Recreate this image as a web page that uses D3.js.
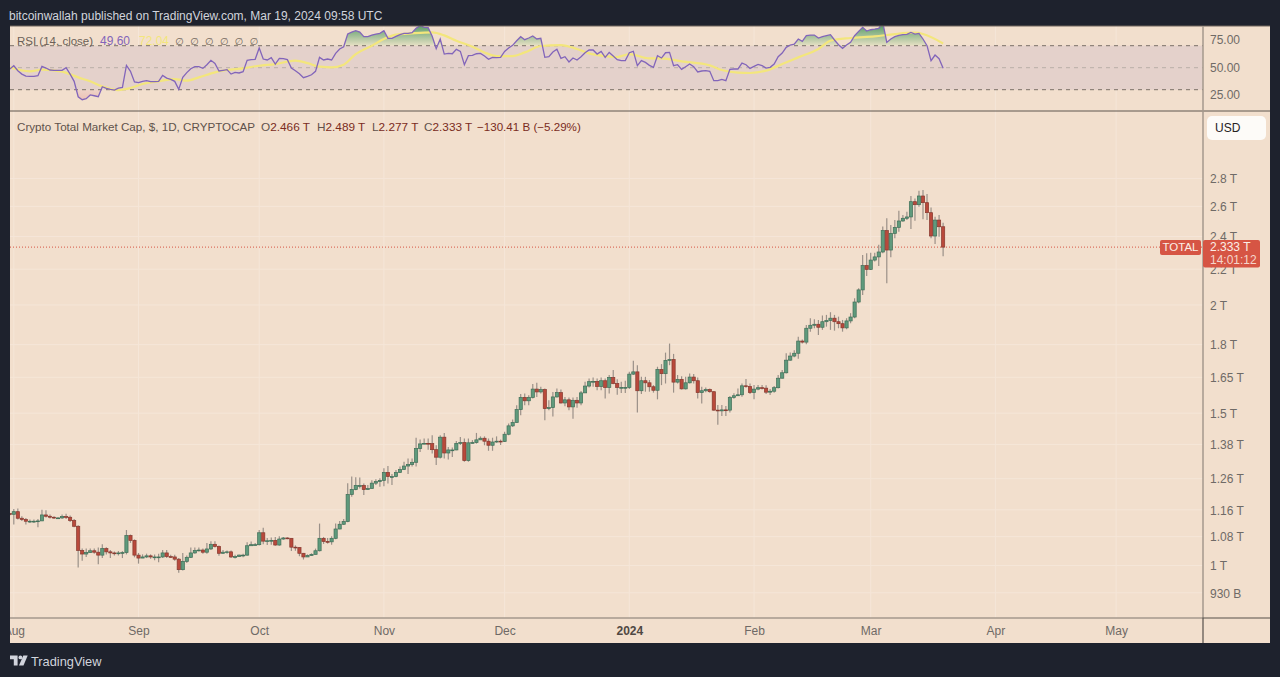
<!DOCTYPE html>
<html>
<head>
<meta charset="utf-8">
<title>Crypto Total Market Cap</title>
<script src="https://cdn.jsdelivr.net/npm/d3@7"></script>
<style>
    body { margin: 0; background: #1e222d; }
    svg { display: block; }
    text { font-family: "Liberation Sans", Arial, sans-serif; }
    .price-axis text, .time-axis text { fill: #6f6a66; font-size: 12px; font-family: "Liberation Sans", Arial, sans-serif; }
</style>
</head>
<body>
<div id="chart"></div>
<script>
// daily candles from 31 Jul 2023, total market cap in trillions of USD
const firstDay = new Date(Date.UTC(2023, 6, 31));
const firstOpen = 1.148;

const closes = [
    1.146,1.154,1.134,1.130,1.125,1.125,1.125,1.126,1.144,1.140,1.137,1.135,1.135,1.139,1.137,1.127,1.110,1.041,1.031,1.035,
    1.040,1.036,1.028,1.046,1.037,1.034,1.032,1.034,1.035,1.083,1.069,1.028,1.020,1.023,1.026,1.023,1.023,1.023,1.034,1.024,
    1.023,1.017,0.989,1.011,1.022,1.034,1.041,1.042,1.036,1.045,1.058,1.052,1.033,1.036,1.037,1.023,1.024,1.028,1.028,1.054,
    1.057,1.057,1.091,1.067,1.068,1.069,1.056,1.073,1.076,1.075,1.050,1.049,1.033,1.023,1.027,1.030,1.040,1.075,1.066,1.065,
    1.075,1.102,1.116,1.124,1.208,
    1.224,1.237,1.237,1.224,1.227,1.245,1.250,1.254,1.281,1.267,1.267,1.281,1.291,1.303,1.308,1.316,1.365,1.382,1.384,1.383,
    1.361,1.334,1.407,1.349,1.360,1.360,1.384,1.387,1.322,1.386,1.387,1.397,1.403,1.392,1.377,1.389,1.392,1.391,1.418,1.450,
    1.463,1.514,1.564,1.550,1.564,1.599,1.587,1.597,1.518,1.522,1.566,1.584,1.541,1.554,1.525,1.552,1.541,1.583,1.612,1.631,
    1.632,1.610,1.635,1.606,1.649,1.623,1.606,1.606,1.606,1.664,
    1.674,1.592,1.635,1.626,1.609,1.594,1.685,1.666,1.726,1.730,1.629,1.641,1.600,1.626,1.651,1.635,1.584,1.592,1.597,1.588,
    1.512,1.509,1.513,1.512,1.564,1.571,1.575,1.613,1.610,1.584,1.599,1.605,1.603,1.586,1.590,1.605,1.646,1.670,1.727,1.746,
    1.759,1.817,1.812,1.880,
    1.895,1.900,1.885,1.913,1.919,1.931,1.913,1.903,1.882,1.917,1.937,2.016,2.082,2.221,2.199,2.254,2.273,2.303,2.438,2.315,
    2.420,2.459,2.501,2.519,2.528,2.633,2.612,2.673,2.626,2.557,2.403,2.507,2.463,2.333
];

const highs = [
    1.150,1.162,1.164,1.140,1.135,1.130,1.130,1.132,1.160,1.158,1.145,1.140,1.137,1.145,1.148,1.142,1.132,1.113,1.046,1.046,
    1.046,1.046,1.049,1.058,1.050,1.042,1.038,1.039,1.039,1.099,1.086,1.072,1.034,1.030,1.032,1.030,1.030,1.032,1.042,1.042,
    1.029,1.029,1.020,1.034,1.027,1.049,1.049,1.049,1.046,1.062,1.067,1.067,1.055,1.042,1.041,1.041,1.029,1.030,1.032,1.064,
    1.066,1.062,1.099,1.106,1.076,1.077,1.079,1.081,1.079,1.078,1.075,1.055,1.050,1.034,1.030,1.033,1.046,1.118,1.079,1.076,
    1.081,1.118,1.126,1.132,1.245,
    1.267,1.265,1.264,1.244,1.239,1.255,1.258,1.261,1.295,1.303,1.276,1.289,1.301,1.318,1.329,1.329,1.405,1.398,1.402,1.402,
    1.414,1.377,1.414,1.423,1.371,1.369,1.393,1.408,1.402,1.402,1.396,1.423,1.410,1.410,1.402,1.405,1.410,1.398,1.427,1.459,
    1.475,1.532,1.578,1.580,1.573,1.621,1.626,1.609,1.602,1.552,1.587,1.602,1.597,1.566,1.564,1.564,1.566,1.591,1.631,1.645,
    1.649,1.645,1.649,1.645,1.660,1.682,1.641,1.631,1.635,1.675,
    1.724,1.704,1.652,1.652,1.638,1.616,1.697,1.709,1.762,1.805,1.756,1.660,1.655,1.652,1.667,1.664,1.649,1.609,1.606,1.602,
    1.590,1.533,1.533,1.529,1.570,1.581,1.602,1.623,1.642,1.623,1.616,1.616,1.616,1.615,1.599,1.612,1.660,1.682,1.759,1.762,
    1.773,1.838,1.824,1.896,
    1.931,1.926,1.922,1.945,1.948,1.962,1.948,1.939,1.922,1.931,1.957,2.036,2.091,2.285,2.295,2.299,2.299,2.347,2.464,2.519,
    2.474,2.507,2.570,2.541,2.564,2.673,2.656,2.711,2.716,2.687,2.593,2.530,2.541,2.489
];

const lows = [
    1.142,1.115,1.130,1.126,1.115,1.120,1.120,1.107,1.126,1.136,1.133,1.132,1.132,1.132,1.132,1.123,1.107,0.995,1.013,1.023,
    1.034,1.032,1.003,1.020,1.030,1.020,1.027,1.027,1.020,1.030,1.062,1.022,1.005,1.020,1.020,1.018,1.014,1.009,1.020,1.020,
    1.020,1.013,0.981,0.987,1.007,1.020,1.032,1.038,1.032,1.032,1.042,1.049,1.026,1.032,1.032,1.020,1.019,1.023,1.022,1.026,
    1.053,1.055,1.055,1.058,1.056,1.057,1.054,1.054,1.071,1.072,1.039,1.040,1.025,1.016,1.023,1.026,1.030,1.038,1.059,1.060,
    1.057,1.072,1.101,1.114,1.122,
    1.201,1.222,1.227,1.206,1.224,1.229,1.239,1.233,1.235,1.244,1.239,1.265,1.280,1.289,1.276,1.301,1.301,1.353,1.381,1.361,
    1.347,1.307,1.329,1.329,1.326,1.335,1.359,1.378,1.318,1.318,1.384,1.383,1.398,1.377,1.357,1.357,1.386,1.378,1.389,1.414,
    1.446,1.462,1.492,1.532,1.532,1.559,1.566,1.580,1.472,1.511,1.487,1.564,1.539,1.528,1.511,1.478,1.522,1.532,1.583,1.606,
    1.609,1.594,1.594,1.559,1.580,1.620,1.575,1.583,1.583,1.599,
    1.660,1.502,1.578,1.588,1.588,1.584,1.556,1.616,1.623,1.704,1.584,1.623,1.597,1.597,1.623,1.623,1.560,1.539,1.586,1.584,
    1.509,1.454,1.489,1.489,1.502,1.558,1.570,1.567,1.605,1.578,1.556,1.594,1.597,1.578,1.574,1.584,1.602,1.645,1.667,1.724,
    1.740,1.733,1.805,1.802,
    1.863,1.880,1.847,1.872,1.888,1.872,1.868,1.880,1.863,1.875,1.905,1.931,2.009,2.054,2.161,2.195,2.245,2.219,2.295,2.119,
    2.271,2.388,2.431,2.496,2.507,2.448,2.503,2.598,2.512,2.507,2.388,2.353,2.399,2.277
];

const rsiValues = [
    48.8,51.8,47.3,44.2,42.4,42.1,42.1,42.7,51.2,49.7,47.9,47.6,47.6,47.6,50,44.2,37.6,23.6,20.9,21.8,
    25.2,24.5,23.6,32.7,31.2,30.3,29.7,31.5,32.1,52.1,46.7,37,36.4,37.6,38.2,37.3,37.3,37.6,43,40.6,
    39.4,37.6,30.3,41.2,45.5,49.1,50.9,50.9,49.4,52.7,56.7,53.9,47,47.6,48.2,44.2,45.8,45.2,46.4,56.7,
    57.3,57.6,67.9,57.9,57,59.1,53.3,58.5,58.2,57.3,49.7,47.3,44.5,40.9,42.1,43.6,46.7,59.4,57,57.9,
    57,63,67,69.1,80.6,82.4,83.6,82.4,78.2,78.2,79.7,80.6,81.2,83.6,76.7,76.7,78.5,80,81.2,81.2,
    81.8,85.8,88.2,86.7,86.4,78.5,67.3,76.1,62.4,63,62.7,66.7,64.8,52.7,60.9,61.2,62.7,63,60.6,57.6,
    59.4,59.1,59.4,64.8,67.9,70.3,74.5,78.2,75.5,77,78.8,76.1,76.7,59.4,60,64.2,66.7,58.5,60,55.2,
    58.8,57,60,63.6,66.1,66.1,62.4,64.8,59.4,63.9,60.6,57.3,56.4,56.4,63.6,64.8,51.8,56.4,54.8,52.1,
    50.3,60.9,58.8,63.6,63.9,51.8,52.7,48.5,50.9,53.3,50.9,46.1,47,47.3,46.7,38.2,38.2,39.4,38.2,48.5,
    48.8,48.8,54.2,52.7,49.4,51.2,53,51.8,49.7,50.3,53.3,60,63.3,68.5,70.6,71.5,76.1,73.9,79.1,79.7,
    79.7,77,78.2,79.1,80,75.2,70.9,67.6,70.6,73,79.1,83,86.7,83.3,84.5,85.1,85.8,91.2,73,76.1,
    78.2,79.4,80,80.3,82.1,80.6,81.2,76.1,70,56.4,61.5,58.2,49.6
];

// RSI moving average, read at the bends of the yellow line (days after 1 Aug 2023)
const rsiMaDays = [
    -1,4,7,12,16,19,22,26,29,32,36,40,43,46,50,53,57,61,65,70,73,76,79,82,85,89,92,95,99,104,107,110,
    114,117,120,124,127,131,136,140,143,147,150,153,158,161,166,173,176,180,183,187,191,195,200,203,208,214,219,224,226,231
];
const rsiMaValues = [
    50.3,46.7,48.2,46.4,41.2,37.6,33,29.7,31.5,35.2,37.6,39.7,38.2,41.2,45.8,47.9,49.4,51.8,53.3,56.4,54.2,50.9,50.3,52.7,62.4,70,76.1,80,81.2,82.1,79.4,74.5,
    69.1,63.9,60.6,60.6,63.9,69.7,70.6,67,63,60.6,59.7,62.4,58.5,58.5,55.8,52.1,47.9,45.5,45.2,47.3,53.3,59.4,67,74.5,77,78.5,80.6,81.8,80.6,72
];

const priceTicks = [0.93, 1, 1.08, 1.16, 1.26, 1.38, 1.5, 1.65, 1.8, 2, 2.2, 2.4, 2.6, 2.8];
const rsiTicks = [25, 50, 75];
const rsiBands = [30, 50, 70];
const monthTicks = [
    [2023, 7, "Aug"], [2023, 8, "Sep"], [2023, 9, "Oct"], [2023, 10, "Nov"], [2023, 11, "Dec"],
    [2024, 0, "2024"], [2024, 1, "Feb"], [2024, 2, "Mar"], [2024, 3, "Apr"], [2024, 4, "May"]
];

const lastClose = closes[closes.length - 1];

const width = 1280, height = 677;
const left = 10, right = 1270, top_ = 26, bottom = 643;
const axisX = 1203, timeY = 618, splitY = 111;

const bg = "#f2dfcd";
const upFill = "#5f9a7c", upEdge = "#3f6e57";
const downFill = "#b9493b", downEdge = "#86382e";
const wickColor = "#9a9088";
const lastRed = "#d65544";

const candles = closes.map((c, i) => ({
    date: d3.utcDay.offset(firstDay, i),
    open: i === 0 ? firstOpen : closes[i - 1],
    high: highs[i],
    low: lows[i],
    close: c
}));
const rsiData = rsiValues.map((v, i) => ({ date: d3.utcDay.offset(firstDay, i), value: v }));
const rsiMa = rsiMaDays.map((d, i) => ({ date: d3.utcDay.offset(firstDay, d + 1), value: rsiMaValues[i] }));
const months = monthTicks.map(m => ({ date: new Date(Date.UTC(m[0], m[1], 1)), label: m[2] }));

const x = d3.scaleUtc()
    .domain([new Date(Date.UTC(2023, 7, 1)), new Date(Date.UTC(2024, 4, 1))])
    .range([13.8, 1116.1]);
const y = d3.scaleLog().base(2).domain([1, 2]).range([565.5, 305]);
const rsiY = d3.scaleLinear().domain([30, 70]).range([89.7, 45.7]);

const svg = d3.select("#chart").append("svg")
    .attr("width", width)
    .attr("height", height)
    .attr("viewBox", [0, 0, width, height]);

const defs = svg.append("defs");

function addClip(id, x0, y0, w, h) {
    defs.append("clipPath").attr("id", id)
        .append("rect").attr("x", x0).attr("y", y0).attr("width", w).attr("height", h);
}
addClip("clip-rsi", left, top_, axisX - left, splitY - top_);
addClip("clip-main", left, splitY, axisX - left, timeY - splitY);
addClip("clip-over", left, top_, axisX - left, rsiY(70) - top_);
addClip("clip-under", left, rsiY(30), axisX - left, splitY - rsiY(30));
addClip("clip-time", left, timeY, axisX - left, bottom - timeY);

const greenGrad = defs.append("linearGradient").attr("id", "grad-over")
    .attr("gradientUnits", "userSpaceOnUse")
    .attr("x1", 0).attr("x2", 0).attr("y1", top_).attr("y2", rsiY(70));
greenGrad.append("stop").attr("offset", 0).attr("stop-color", "#5e9f6c");
greenGrad.append("stop").attr("offset", 1).attr("stop-color", "#e6e0c4");

const redGrad = defs.append("linearGradient").attr("id", "grad-under")
    .attr("gradientUnits", "userSpaceOnUse")
    .attr("x1", 0).attr("x2", 0).attr("y1", rsiY(30)).attr("y2", splitY - 10);
redGrad.append("stop").attr("offset", 0).attr("stop-color", "#eed3c8");
redGrad.append("stop").attr("offset", 1).attr("stop-color", "#ecc0b4");

// panel
svg.append("rect")
    .attr("x", left).attr("y", top_)
    .attr("width", right - left).attr("height", bottom - top_)
    .attr("fill", bg);

// grid
const grid = svg.append("g").attr("stroke", "#f5e6d8").attr("stroke-width", 1);
grid.selectAll("line.v")
    .data(months)
    .join("line")
    .attr("class", "v")
    .attr("x1", d => x(d.date)).attr("x2", d => x(d.date))
    .attr("y1", top_).attr("y2", timeY);
grid.selectAll("line.h")
    .data(priceTicks)
    .join("line")
    .attr("class", "h")
    .attr("x1", left).attr("x2", axisX)
    .attr("y1", d => y(d)).attr("y2", d => y(d));

// RSI pane
const rsiPane = svg.append("g");

rsiPane.append("rect")
    .attr("x", left).attr("width", axisX - left)
    .attr("y", rsiY(70)).attr("height", rsiY(30) - rsiY(70))
    .attr("fill", "#e4d1cb");

const areaOver = d3.area()
    .x(d => x(d.date))
    .y0(rsiY(70))
    .y1(d => rsiY(d.value));
const areaUnder = d3.area()
    .x(d => x(d.date))
    .y0(rsiY(30))
    .y1(d => rsiY(d.value));

rsiPane.append("path")
    .datum(rsiData)
    .attr("d", areaOver)
    .attr("fill", "url(#grad-over)")
    .attr("clip-path", "url(#clip-over)");
rsiPane.append("path")
    .datum(rsiData)
    .attr("d", areaUnder)
    .attr("fill", "url(#grad-under)")
    .attr("clip-path", "url(#clip-under)");

rsiPane.selectAll("line.band")
    .data(rsiBands)
    .join("line")
    .attr("class", "band")
    .attr("x1", left).attr("x2", axisX)
    .attr("y1", d => rsiY(d)).attr("y2", d => rsiY(d))
    .attr("stroke", d => d === 50 ? "#b9aea8" : "#7b7068")
    .attr("stroke-dasharray", "4 4");

const rsiLine = d3.line()
    .x(d => x(d.date))
    .y(d => rsiY(d.value));

rsiPane.append("path")
    .datum(rsiMa)
    .attr("d", d3.line().x(d => x(d.date)).y(d => rsiY(d.value)).curve(d3.curveMonotoneX))
    .attr("fill", "none")
    .attr("stroke", "#f3e67c")
    .attr("stroke-width", 2.2)
    .attr("clip-path", "url(#clip-rsi)");
rsiPane.append("path")
    .datum(rsiData)
    .attr("d", rsiLine)
    .attr("fill", "none")
    .attr("stroke", "#8265ba")
    .attr("stroke-width", 1.3)
    .attr("clip-path", "url(#clip-rsi)");

// candles
const plot = svg.append("g").attr("clip-path", "url(#clip-main)");

plot.append("line")
    .attr("x1", left).attr("x2", axisX)
    .attr("y1", y(lastClose)).attr("y2", y(lastClose))
    .attr("stroke", lastRed)
    .attr("stroke-dasharray", "1 2");

const candle = plot.selectAll("g.candle")
    .data(candles)
    .join("g")
    .attr("class", "candle")
    .attr("transform", d => `translate(${x(d.date)},0)`);

candle.append("line")
    .attr("y1", d => y(d.high))
    .attr("y2", d => y(d.low))
    .attr("stroke", wickColor)
    .attr("stroke-width", 1.2);

candle.append("rect")
    .attr("x", -1.6)
    .attr("width", 3.2)
    .attr("y", d => y(Math.max(d.open, d.close)))
    .attr("height", d => Math.max(0.8, Math.abs(y(d.open) - y(d.close))))
    .attr("fill", d => d.close >= d.open ? upFill : downFill)
    .attr("stroke", d => d.close >= d.open ? upEdge : downEdge)
    .attr("stroke-width", 0.7);

// price axis
function formatPrice(v) {
    return v < 1 ? Math.round(v * 1000) + " B" : v + " T";
}

svg.append("g")
    .attr("class", "price-axis")
    .attr("transform", `translate(${axisX},0.5)`)
    .call(d3.axisRight(y).tickValues(priceTicks).tickFormat(formatPrice).tickSize(0).tickPadding(7))
    .call(g => g.select(".domain").remove());

svg.append("g")
    .attr("class", "price-axis")
    .attr("transform", `translate(${axisX},-0.5)`)
    .call(d3.axisRight(rsiY).tickValues(rsiTicks).tickFormat(d3.format(".2f")).tickSize(0).tickPadding(7))
    .call(g => g.select(".domain").remove());

// time axis, clipped on a wrapper so the Aug label is cut at the panel edge
svg.append("g")
    .attr("clip-path", "url(#clip-time)")
    .append("g")
    .attr("class", "time-axis")
    .attr("transform", `translate(0,${timeY})`)
    .call(d3.axisBottom(x)
        .tickValues(months.map(m => m.date))
        .tickFormat((d, i) => months[i].label)
        .tickSize(0)
        .tickPadding(8))
    .call(g => g.select(".domain").remove())
    .call(g => g.selectAll("text")
        .filter((d, i) => months[i].label === "2024")
        .style("font-weight", 700)
        .style("fill", "#4f4843"));

// frame lines
const frame = svg.append("g");
frame.append("line").attr("x1", left).attr("x2", right).attr("y1", top_).attr("y2", top_).attr("stroke", "#6e655d");
frame.append("line").attr("x1", left).attr("x2", right).attr("y1", splitY).attr("y2", splitY).attr("stroke", "#5f564f");
frame.append("line").attr("x1", axisX).attr("x2", axisX).attr("y1", top_).attr("y2", timeY).attr("stroke", "#a4988c").attr("stroke-width", 1.5);
frame.append("line").attr("x1", left).attr("x2", axisX).attr("y1", timeY).attr("y2", timeY).attr("stroke", "#a4988c").attr("stroke-width", 1.5);
frame.append("path")
    .attr("d", `M${right},${timeY}H${axisX}V${bottom}`)
    .attr("fill", "none")
    .attr("stroke", "#56504b")
    .attr("stroke-width", 1.2);

// header and legends
svg.append("text")
    .attr("x", 9).attr("y", 19.5)
    .attr("fill", "#d1d4dc")
    .style("font-size", "12px")
    .text("bitcoinwallah published on TradingView.com, Mar 19, 2024 09:58 UTC");

svg.append("text").attr("x", 17).attr("y", 45).attr("fill", "#6b5f58").style("font-size", "11.5px").text("RSI (14, close)");
svg.append("text").attr("x", 100).attr("y", 45).attr("fill", "#8265ba").style("font-size", "12px").text("49.60");
svg.append("text").attr("x", 139).attr("y", 45).attr("fill", "#f3e67c").style("font-size", "12px").text("72.04");
svg.selectAll("text.na")
    .data(d3.range(6))
    .join("text")
    .attr("class", "na")
    .attr("x", d => 175 + d * 14.9)
    .attr("y", 45)
    .attr("fill", "#6b5f58")
    .style("font-size", "10px")
    .style("font-family", "DejaVu Sans")
    .text("∅");

const legendDark = "#7a2c22";
svg.append("text").attr("x", 17).attr("y", 131).attr("fill", "#5f524b").style("font-size", "11.65px")
    .text("Crypto Total Market Cap, $, 1D, CRYPTOCAP");

const ohlc = [
    { x: 261, key: "O", val: "2.466 T" },
    { x: 317, key: "H", val: "2.489 T" },
    { x: 372, key: "L", val: "2.277 T" },
    { x: 424, key: "C", val: "2.333 T" }
];
const ohlcText = svg.selectAll("text.ohlc")
    .data(ohlc)
    .join("text")
    .attr("class", "ohlc")
    .attr("x", d => d.x)
    .attr("y", 131)
    .style("font-size", "11.8px");
ohlcText.append("tspan").attr("fill", "#5f524b").text(d => d.key);
ohlcText.append("tspan").attr("fill", legendDark).text(d => d.val);
svg.append("text").attr("x", 477).attr("y", 131).attr("fill", legendDark).style("font-size", "11.6px")
    .text("−130.41 B (−5.29%)");

// USD button
svg.append("rect").attr("x", 1207).attr("y", 116).attr("width", 59).attr("height", 24).attr("rx", 5).attr("fill", "#fdfbf8");
svg.append("text").attr("x", 1215).attr("y", 132).attr("fill", "#26221f").style("font-size", "12px").text("USD");

// last price tags
const tagY = y(lastClose);
svg.append("rect").attr("x", 1160).attr("y", tagY - 7).attr("width", 41).attr("height", 15).attr("rx", 2).attr("fill", lastRed);
svg.append("text").attr("x", 1180.5).attr("y", tagY + 4).attr("text-anchor", "middle").attr("fill", "#fbeee6").style("font-size", "11.5px").text("TOTAL");
svg.append("rect").attr("x", 1203).attr("y", tagY - 7).attr("width", 57).attr("height", 27.5).attr("rx", 2).attr("fill", lastRed);
svg.append("text").attr("x", 1210).attr("y", tagY + 4).attr("fill", "#fbeee6").style("font-size", "12px").text("2.333 T");
svg.append("text").attr("x", 1210).attr("y", tagY + 17).attr("fill", "#f5d5cb").style("font-size", "12px").text("14:01:12");

// footer
const logo = svg.append("g").attr("fill", "#d1d4dc");
logo.append("path").attr("d", "M10,655.5h7.6v10h-3.8v-6.2h-3.8z");
logo.append("circle").attr("cx", 20.4).attr("cy", 657.4).attr("r", 1.9);
logo.append("path").attr("d", "M23.3,655.5h4.4l-4.2,10h-4.5z");
svg.append("text").attr("x", 31).attr("y", 665.5).attr("fill", "#d1d4dc").style("font-size", "12.8px").text("TradingView");
</script>
</body>
</html>
